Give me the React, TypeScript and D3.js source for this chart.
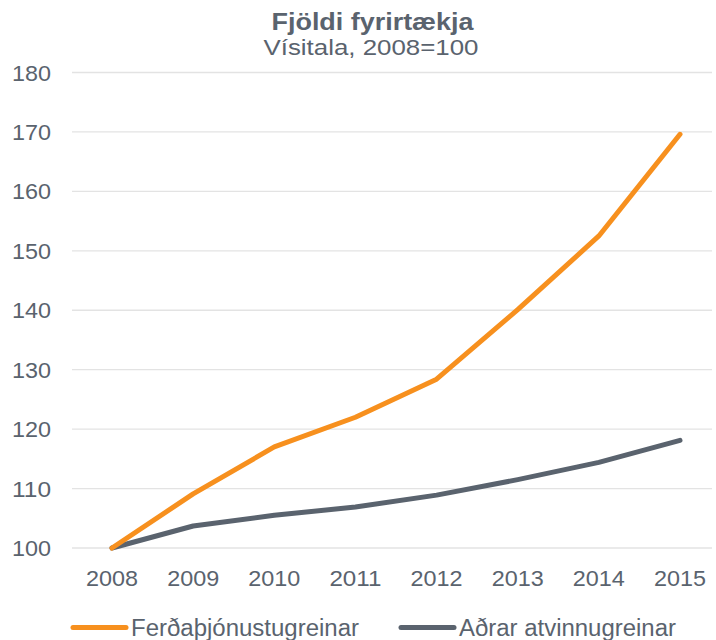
import { useRef, useEffect } from "react";
import * as d3 from "d3";

const years = ["2008", "2009", "2010", "2011", "2012", "2013", "2014", "2015"];
const tourism = [100, 109.1, 117.0, 122.0, 128.4, 140.1, 152.5, 169.6];
const other = [100, 103.7, 105.5, 106.9, 108.9, 111.5, 114.4, 118.1];
const yTicks = [100, 110, 120, 130, 140, 150, 160, 170, 180];
const seriesNames = ["Ferðaþjónustugreinar", "Aðrar atvinnugreinar"];
const colors = ["#F7901E", "#5A636E"];

export default function App() {
  const svgRef = useRef<SVGSVGElement>(null);

  useEffect(() => {
    const svg = d3.select(svgRef.current);
    svg.selectAll("*").remove();

    const font = "'Liberation Sans', Arial, sans-serif";
    const textColor = "#5A636E";

    const x = d3.scalePoint().domain(years).range([112, 680]);
    const y = d3.scaleLinear().domain([100, 180]).range([548, 72.5]);

    // gridlines
    svg
      .append("g")
      .selectAll("line")
      .data(yTicks)
      .enter()
      .append("line")
      .attr("x1", 72)
      .attr("x2", 712)
      .attr("y1", d => y(d))
      .attr("y2", d => y(d))
      .attr("stroke", "#E3E3E3")
      .attr("stroke-width", 1.3);

    // y labels
    svg
      .append("g")
      .selectAll("text")
      .data(yTicks)
      .enter()
      .append("text")
      .attr("x", 51)
      .attr("y", d => y(d) + 8)
      .attr("text-anchor", "end")
      .attr("fill", textColor)
      .attr("textLength", 39)
      .attr("lengthAdjust", "spacingAndGlyphs")
      .style("font-family", font)
      .style("font-size", "21.5px")
      .text(d => d);

    // x labels
    svg
      .append("g")
      .selectAll("text")
      .data(years)
      .enter()
      .append("text")
      .attr("x", d => x(d)!)
      .attr("y", 585.5)
      .attr("text-anchor", "middle")
      .attr("fill", textColor)
      .attr("textLength", 52)
      .attr("lengthAdjust", "spacingAndGlyphs")
      .style("font-family", font)
      .style("font-size", "22.5px")
      .text(d => d);

    const line = d3
      .line<number>()
      .x((_, i) => x(years[i])!)
      .y(d => y(d));

    [other, tourism].forEach((s, k) => {
      svg
        .append("path")
        .datum(s)
        .attr("fill", "none")
        .attr("stroke", k === 0 ? colors[1] : colors[0])
        .attr("stroke-width", 5)
        .attr("stroke-linecap", "round")
        .attr("stroke-linejoin", "round")
        .attr("d", line);
    });

    // title
    svg
      .append("text")
      .attr("x", 372.5)
      .attr("y", 29.5)
      .attr("text-anchor", "middle")
      .attr("fill", textColor)
      .attr("textLength", 202)
      .attr("lengthAdjust", "spacingAndGlyphs")
      .style("font-family", font)
      .style("font-size", "23.5px")
      .style("font-weight", "bold")
      .text("Fjöldi fyrirtækja");

    svg
      .append("text")
      .attr("x", 371)
      .attr("y", 54.5)
      .attr("text-anchor", "middle")
      .attr("fill", textColor)
      .attr("textLength", 215)
      .attr("lengthAdjust", "spacingAndGlyphs")
      .style("font-family", font)
      .style("font-size", "22.5px")
      .text("Vísitala, 2008=100");

    // legend
    const legendX = [73, 401];
    const legendLen = [228, 217];
    seriesNames.forEach((name, i) => {
      svg
        .append("line")
        .attr("x1", legendX[i])
        .attr("x2", legendX[i] + 53)
        .attr("y1", 627.5)
        .attr("y2", 627.5)
        .attr("stroke", colors[i])
        .attr("stroke-width", 5)
        .attr("stroke-linecap", "round");
      svg
        .append("text")
        .attr("x", legendX[i] + 58)
        .attr("y", 636)
        .attr("fill", textColor)
        .attr("textLength", legendLen[i])
        .attr("lengthAdjust", "spacingAndGlyphs")
        .style("font-family", font)
        .style("font-size", "23px")
        .text(name);
    });
  }, []);

  return (
    <svg
      ref={svgRef}
      width={716}
      height={640}
      style={{ position: "absolute", left: 0, top: 0, display: "block", background: "#fff" }}
    />
  );
}
